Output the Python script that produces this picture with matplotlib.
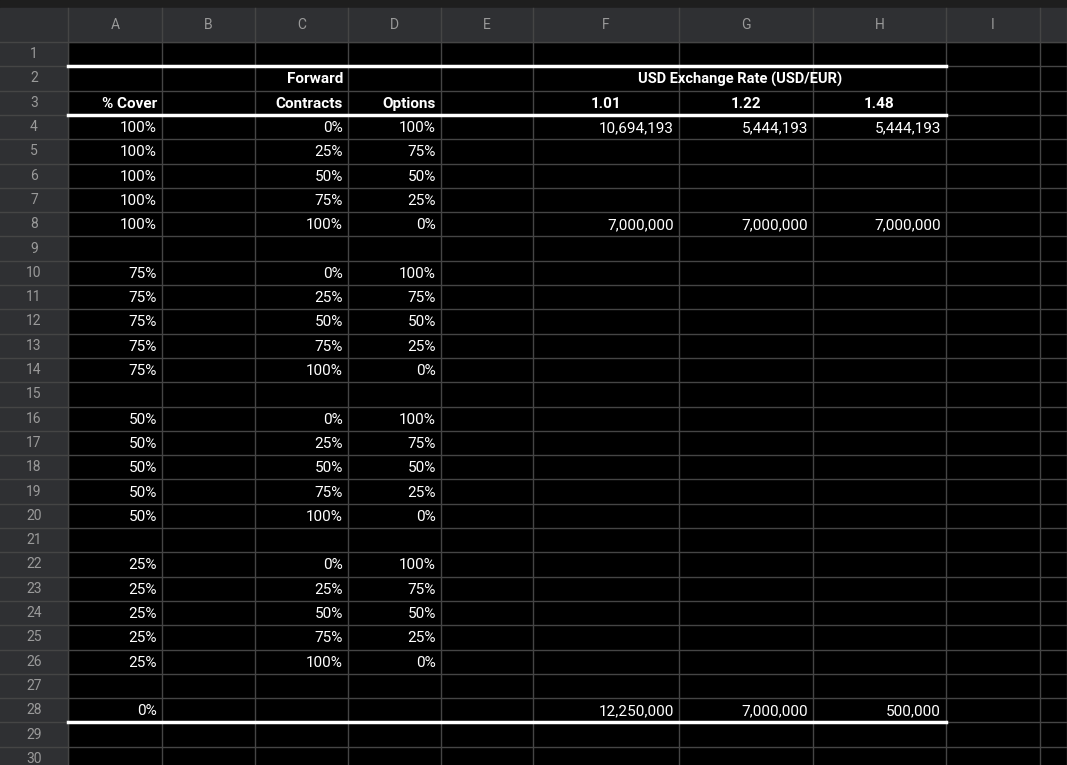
import matplotlib.pyplot as plt
from matplotlib.patches import Rectangle

# spreadsheet content
col_letters = ['A', 'B', 'C', 'D', 'E', 'F', 'G', 'H', 'I']
col_edges = [68, 162, 255, 348, 441, 533, 679, 813, 946, 1040, 1067]
cover = ['100%'] * 5 + ['75%'] * 5 + ['50%'] * 5 + ['25%'] * 5
forward = ['0%', '25%', '50%', '75%', '100%']
options = ['100%', '75%', '50%', '25%', '0%']
rates = ['1.01', '1.22', '1.48']
result_rows = {4: ['10,694,193', '5,444,193', '5,444,193'],
               8: ['7,000,000', '7,000,000', '7,000,000'],
               28: ['12,250,000', '7,000,000', '500,000']}

W, H = 1067, 765
top, rh = 42, 24.3
fig = plt.figure(figsize=(W / 100, H / 100), dpi=100)
ax = fig.add_axes([0, 0, 1, 1])
ax.set_xlim(0, W)
ax.set_ylim(H, 0)
ax.axis('off')
fig.patch.set_facecolor('black')

grid = '#454545'
hdr = '#2f3033'
ax.add_patch(Rectangle((0, 0), W, 8, color='#1e1e1e'))
ax.add_patch(Rectangle((0, 8), W, top - 8, color=hdr))
ax.add_patch(Rectangle((0, top), 68, H - top, color=hdr))

def ry(r):
    return top + (r - 1) * rh

# grid lines
for x in col_edges:
    ax.plot([x, x], [8, H], color=grid, lw=1)
for r in range(1, 32):
    ax.plot([0, W], [ry(r), ry(r)], color=grid, lw=1)

for i, c in enumerate(col_letters):
    ax.text((col_edges[i] + col_edges[i + 1]) / 2, 25, c, color='#9a9a9a',
            ha='center', va='center', fontsize=10, family='Roboto')
for r in range(1, 31):
    ax.text(34, ry(r) + rh / 2, str(r), color='#9a9a9a', ha='center',
            va='center', fontsize=10, family='Roboto')

def cell(r, c, s, ha='right', bold=False):
    x0, x1 = col_edges[c], col_edges[c + 1]
    x = {'right': x1 - 5, 'center': (x0 + x1) / 2, 'left': x0 + 5}[ha]
    ax.text(x, ry(r) + rh / 2 + 1, s, color='white', ha=ha, va='center',
            fontsize=11, family='Roboto', fontweight='bold' if bold else 'normal')

cell(3, 0, '% Cover', bold=True)
cell(2, 2, 'Forward', bold=True)
cell(3, 2, 'Contracts', bold=True)
cell(3, 3, 'Options', bold=True)
ax.text(740, ry(2) + rh / 2 + 1, 'USD Exchange Rate (USD/EUR)', color='white',
        ha='center', va='center', fontsize=10.5, family='Roboto', fontweight='bold')
for j, rt in enumerate(rates):
    cell(3, 5 + j, rt, ha='center', bold=True)

k = 0
for block in range(4):
    for i in range(5):
        r = 4 + block * 6 + i
        cell(r, 0, cover[k])
        cell(r, 2, forward[i])
        cell(r, 3, options[i])
        k += 1
cell(28, 0, '0%')
for r, vals in result_rows.items():
    for j, v in enumerate(vals):
        cell(r, 5 + j, v)

# white borders
for y in [ry(2), ry(4), ry(29)]:
    ax.plot([68, 946], [y, y], color='white', lw=2.5)

fig.savefig('out.png', dpi=100, facecolor='black')
